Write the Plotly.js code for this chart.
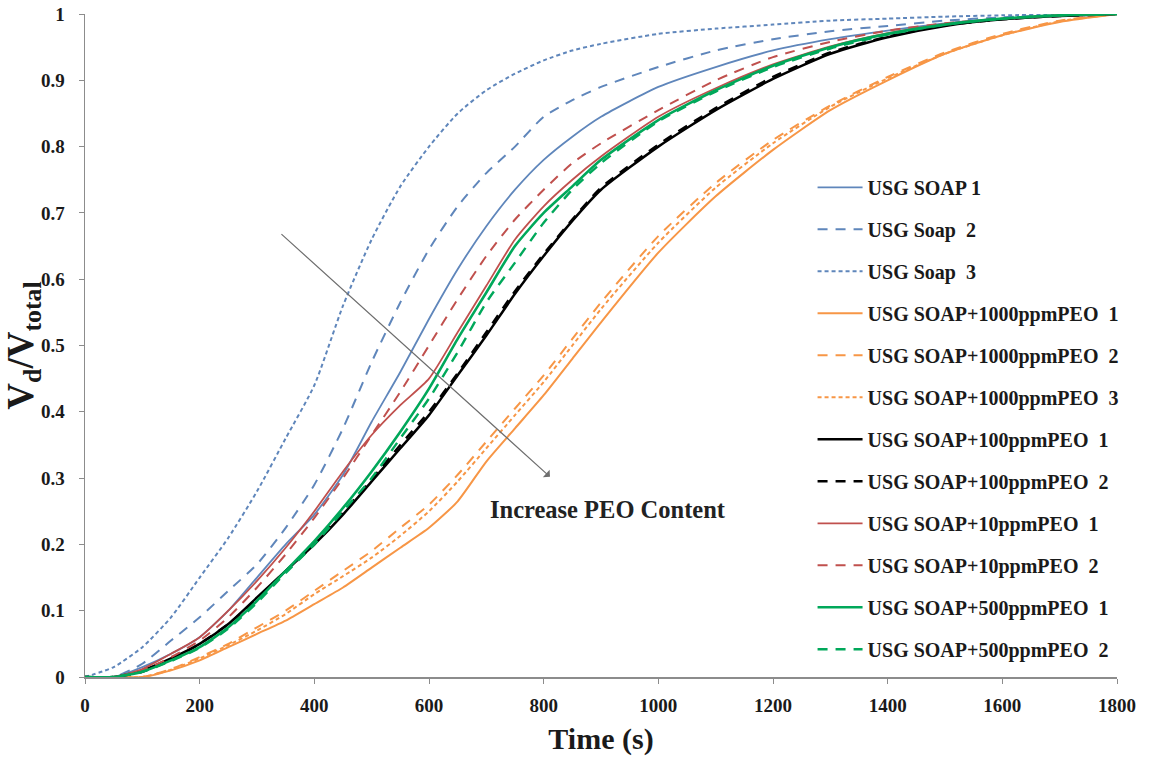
<!DOCTYPE html>
<html>
<head>
<meta charset="utf-8">
<script src="https://cdn.plot.ly/plotly-3.0.1.min.js"></script>
<style>html,body{margin:0;padding:0;background:#fff;}#chart{width:1149px;height:759px;}</style>
</head>
<body>
<div id="chart"></div>
<script>
// Time grid (s)
var time = [0,50,100,150,200,250,300,350,400,450,500,550,600,650,700,750,800,850,900,1000,1100,1200,1300,1400,1500,1600,1700,1800];

// Vd/Vtotal series
var soap1 = [0,0,0.015,0.035,0.06,0.1,0.15,0.2,0.245,0.305,0.385,0.46,0.54,0.615,0.68,0.735,0.78,0.815,0.845,0.89,0.92,0.945,0.962,0.975,0.986,0.993,0.998,1];
var soap2 = [0,0,0.02,0.055,0.09,0.13,0.17,0.225,0.29,0.375,0.475,0.565,0.645,0.71,0.76,0.8,0.845,0.87,0.89,0.92,0.945,0.962,0.974,0.982,0.99,0.995,0.998,1];
var soap3 = [0,0.015,0.045,0.09,0.15,0.21,0.28,0.36,0.44,0.56,0.66,0.74,0.8,0.85,0.885,0.91,0.93,0.945,0.955,0.97,0.978,0.984,0.99,0.993,0.996,0.998,0.999,1];
var peo1000_1 = [0,0,0,0.01,0.025,0.045,0.065,0.085,0.11,0.135,0.165,0.195,0.225,0.265,0.325,0.375,0.425,0.48,0.535,0.64,0.725,0.795,0.855,0.9,0.94,0.968,0.988,1];
var peo1000_2 = [0,0,0,0.012,0.03,0.05,0.075,0.1,0.13,0.16,0.19,0.225,0.26,0.305,0.355,0.405,0.455,0.51,0.565,0.665,0.745,0.81,0.862,0.905,0.942,0.97,0.99,1];
var peo1000_3 = [0,0,0,0.011,0.028,0.048,0.07,0.095,0.125,0.152,0.18,0.213,0.25,0.295,0.345,0.395,0.445,0.5,0.555,0.655,0.738,0.805,0.86,0.903,0.94,0.968,0.989,1];
var peo100_1 = [0,0,0.01,0.028,0.05,0.08,0.12,0.16,0.2,0.245,0.295,0.345,0.395,0.455,0.515,0.578,0.635,0.688,0.735,0.8,0.855,0.902,0.94,0.965,0.982,0.992,0.997,1];
var peo100_2 = [0,0,0.008,0.026,0.05,0.08,0.118,0.16,0.2,0.248,0.298,0.35,0.4,0.458,0.52,0.582,0.638,0.69,0.738,0.803,0.858,0.905,0.942,0.966,0.983,0.992,0.997,1];
var peo10_1 = [0,0,0.012,0.035,0.06,0.1,0.145,0.195,0.25,0.31,0.365,0.41,0.45,0.52,0.59,0.66,0.71,0.75,0.785,0.845,0.888,0.924,0.951,0.971,0.985,0.993,0.998,1];
var peo10_2 = [0,0,0.01,0.03,0.055,0.09,0.135,0.185,0.24,0.3,0.365,0.43,0.5,0.57,0.635,0.69,0.735,0.775,0.805,0.855,0.9,0.935,0.958,0.975,0.986,0.993,0.998,1];
var peo500_1 = [0,0,0.008,0.025,0.045,0.075,0.115,0.16,0.205,0.255,0.31,0.37,0.435,0.51,0.58,0.65,0.7,0.74,0.78,0.84,0.885,0.922,0.95,0.97,0.984,0.993,0.998,1];
var peo500_2 = [0,0,0.008,0.024,0.044,0.073,0.112,0.157,0.2,0.25,0.3,0.36,0.42,0.49,0.565,0.625,0.685,0.735,0.775,0.838,0.883,0.92,0.948,0.969,0.984,0.993,0.998,1];

var names = ["USG SOAP 1","USG Soap  2","USG Soap  3","USG SOAP+1000ppmPEO  1","USG SOAP+1000ppmPEO  2","USG SOAP+1000ppmPEO  3","USG SOAP+100ppmPEO  1","USG SOAP+100ppmPEO  2","USG SOAP+10ppmPEO  1","USG SOAP+10ppmPEO  2","USG SOAP+500ppmPEO  1","USG SOAP+500ppmPEO  2"];
var series = [soap1,soap2,soap3,peo1000_1,peo1000_2,peo1000_3,peo100_1,peo100_2,peo10_1,peo10_2,peo500_1,peo500_2];

var styles = [
  {color:"#5f86bb", width:1.8, dash:"solid"},
  {color:"#5f86bb", width:2, dash:"10px,8px"},
  {color:"#5f86bb", width:2, dash:"4px,3px"},
  {color:"#f79646", width:2, dash:"solid"},
  {color:"#f79646", width:2, dash:"10px,8px"},
  {color:"#f79646", width:2, dash:"4px,3px"},
  {color:"#000000", width:2.5, dash:"solid"},
  {color:"#000000", width:2.5, dash:"10px,8px"},
  {color:"#c0504d", width:1.8, dash:"solid"},
  {color:"#c0504d", width:2, dash:"10px,8px"},
  {color:"#00a85a", width:2.6, dash:"solid"},
  {color:"#00a85a", width:2.4, dash:"10px,8px"}
];

var traces = series.map(function(s,i){
  return {x: time, y: s, type:"scatter", mode:"lines", name: names[i],
    legendgroup: "g"+i,
    line: {color: styles[i].color, width: styles[i].width, dash: styles[i].dash, shape:"spline", smoothing:0.6}};
});

var serif = "Liberation Serif, Times New Roman, serif";
var layout = {
  width:1149, height:759,
  margin:{l:85, r:32, t:14, b:82},
  paper_bgcolor:"#ffffff", plot_bgcolor:"#ffffff",
  font:{family:serif, color:"#000"},
  showlegend:true,
  legend:{x:0.705, y:0.768, xanchor:"left", yanchor:"top", bgcolor:"rgba(0,0,0,0)",
    itemwidth:45,
    font:{family:serif, size:20, color:"#1a1a1a", weight:"bold"}, tracegroupgap:13, traceorder:"grouped"},
  xaxis:{range:[0,1800], tickvals:[0,200,400,600,800,1000,1200,1400,1600,1800],
    showgrid:false, zeroline:false, showline:true, linecolor:"#8c8c8c", linewidth:1.5,
    ticks:"outside", ticklen:5, tickcolor:"#8c8c8c", ticklabelstandoff:6,
    tickfont:{family:serif, size:19, color:"#1a1a1a", weight:"bold"},
    title:{text:"<b>Time (s)</b>", font:{family:serif, size:30, color:"#1a1a1a"}, standoff:12}},
  yaxis:{range:[0,1], tickvals:[0,0.1,0.2,0.3,0.4,0.5,0.6,0.7,0.8,0.9,1],
    ticktext:["0","0.1","0.2","0.3","0.4","0.5","0.6","0.7","0.8","0.9","1"],
    showgrid:false, zeroline:false, showline:true, linecolor:"#8c8c8c", linewidth:1.5,
    ticks:"outside", ticklen:5, tickcolor:"#8c8c8c", ticklabelstandoff:10,
    tickfont:{family:serif, size:19, color:"#1a1a1a", weight:"bold"},
    title:{text:"<b>V<sub>d</sub>/V<sub>total</sub></b>", font:{family:serif, size:37, color:"#1a1a1a"}, standoff:0}},
  annotations:[
    {x:811, y:0.302, ax:340, ay:0.67, xref:"x", yref:"y", axref:"x", ayref:"y",
     text:"", showarrow:true, arrowhead:1, arrowsize:1.4, arrowwidth:1.2, arrowcolor:"#6e6e6e"},
    {x:912, y:0.252, xref:"x", yref:"y", text:"<b>Increase PEO Content</b>", showarrow:false,
     font:{family:serif, size:24.5, color:"#222"}}
  ]
};

Plotly.newPlot("chart", traces, layout, {displayModeBar:false, staticPlot:true});
</script>
</body>
</html>
